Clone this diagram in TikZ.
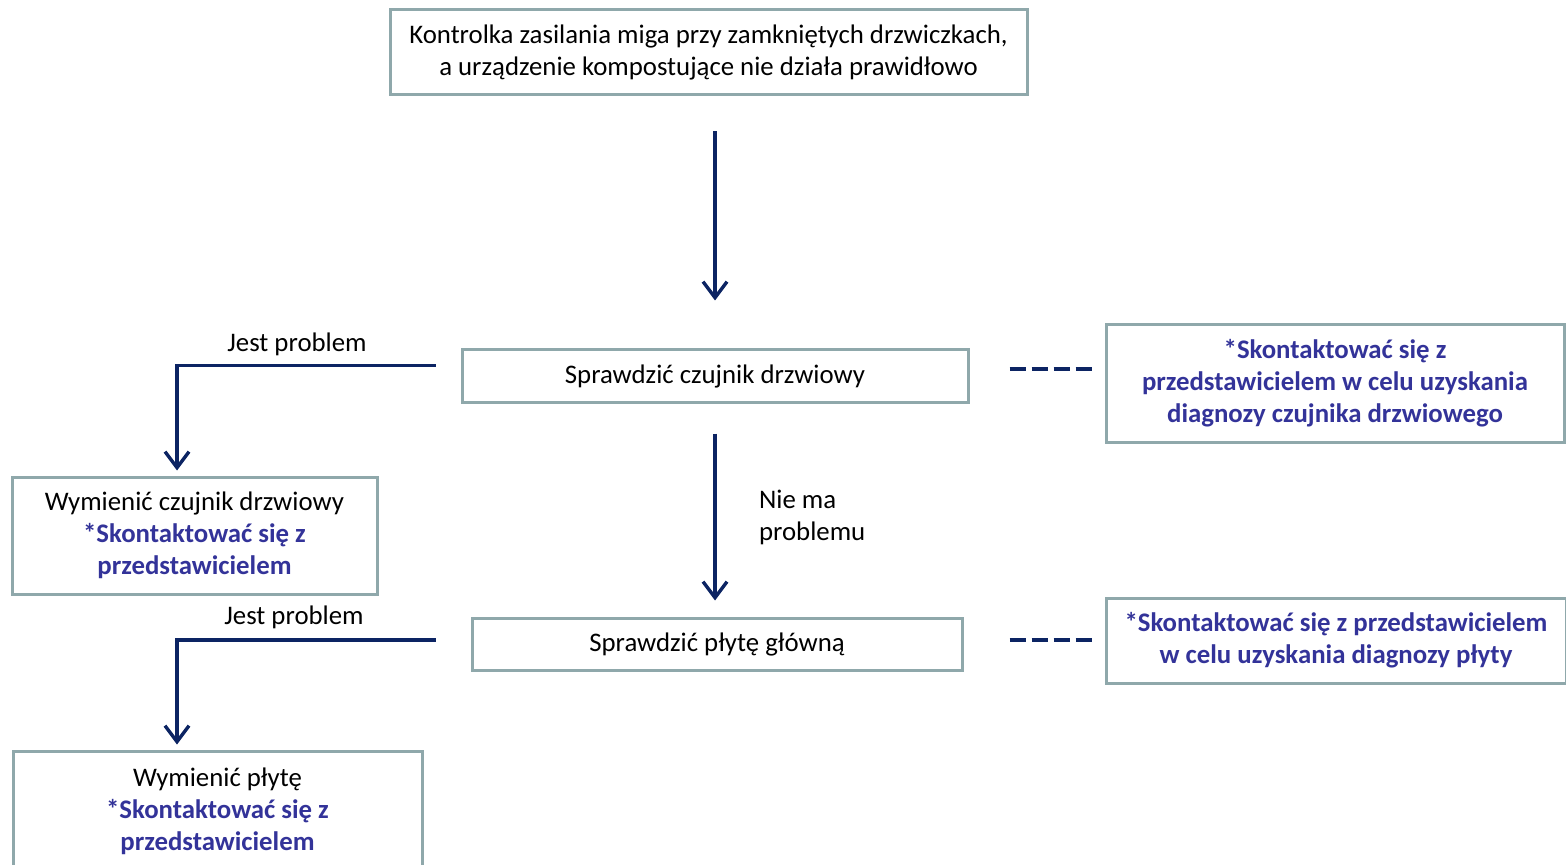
\documentclass[tikz,border=0pt]{standalone}
\usepackage{fontspec}
\setmainfont{Carlito}
\usepackage{xcolor}
\usepackage{tikz}
\usetikzlibrary{arrows.meta,positioning}
\definecolor{boxgray}{RGB}{143,168,171}
\definecolor{navy}{RGB}{12,36,99}
\definecolor{contactblue}{RGB}{51,51,153}
\newcommand{\contact}[1]{{\bfseries\color{contactblue}#1}}

\begin{document}
\begin{tikzpicture}[x=0.5pt,y=-0.5pt,
    every node/.append style={font=\fontsize{13.4}{16}\selectfont},
    box/.style={draw=boxgray, line width=1.5pt, align=center, inner sep=0pt},
    flow/.style={draw=navy, line width=1.7pt, -{Straight Barb[length=8pt,width=12pt,line width=1.7pt]}},
    link/.style={draw=navy, line width=2pt, dash pattern=on 8pt off 3pt}]
    \useasboundingbox (0,0) rectangle (1566,865);

    \node[box, minimum width=318.5pt, minimum height=42.5pt] at (708.5,52.5) (problem)
        {Kontrolka zasilania miga przy zamkniętych drzwiczkach,\\ a urządzenie kompostujące nie działa prawidłowo};

    \node[box, minimum width=253pt, minimum height=26.5pt] at (715,376.5) (sensor) {Sprawdzić czujnik drzwiowy};
    \node[box, minimum width=229pt, minimum height=58.5pt] at (1335,383.5) (sensorhelp)
        {\contact{*Skontaktować się z}\\ \contact{przedstawicielem w celu uzyskania}\\ \contact{diagnozy czujnika drzwiowego}};
    \node[box, minimum width=182.5pt, minimum height=58.5pt] at (194.5,535.5) (sensorswap)
        {Wymienić czujnik drzwiowy\\ \contact{*Skontaktować się z}\\ \contact{przedstawicielem}};

    \node[box, minimum width=245pt, minimum height=26pt] at (717,644) (board) {Sprawdzić płytę główną};
    \node[box, minimum width=230pt, minimum height=42.5pt] at (1336,640.5) (boardhelp)
        {\contact{*Skontaktować się z przedstawicielem}\\ \contact{w celu uzyskania diagnozy płyty}};
    \node[box, minimum width=204.5pt, minimum height=60pt] at (217.5,811) (boardswap)
        {Wymienić płytę\\ \contact{*Skontaktować się z}\\ \contact{przedstawicielem}};

    \node at (297,344) (yes1) {Jest problem};
    \node at (294,617) (yes2) {Jest problem};
    \node[anchor=west, align=left] at (752,517) (no1) {Nie ma\\ problemu};

    \draw[flow, shorten <=17.5pt, shorten >=24pt] (problem.south -| sensor.north) -- (sensor.north);
    \draw[flow, shorten <=14.5pt, shorten >=8pt] (sensor.south) -- (sensor.south |- board.north);

    \draw[flow, shorten >=2.5pt] (sensor.west) ++(-25,-11) -| ([xshift=-8.75pt]sensorswap.north);
    \draw[flow, shorten >=2.5pt] (board.west) ++(-35,-4) -| ([xshift=-20.25pt]boardswap.north);

    \draw[link] (sensor.east) ++(40,-7) -- ++(82,0);
    \draw[link] (board.east) ++(46,-4) -- ++(82,0);
\end{tikzpicture}
\end{document}
